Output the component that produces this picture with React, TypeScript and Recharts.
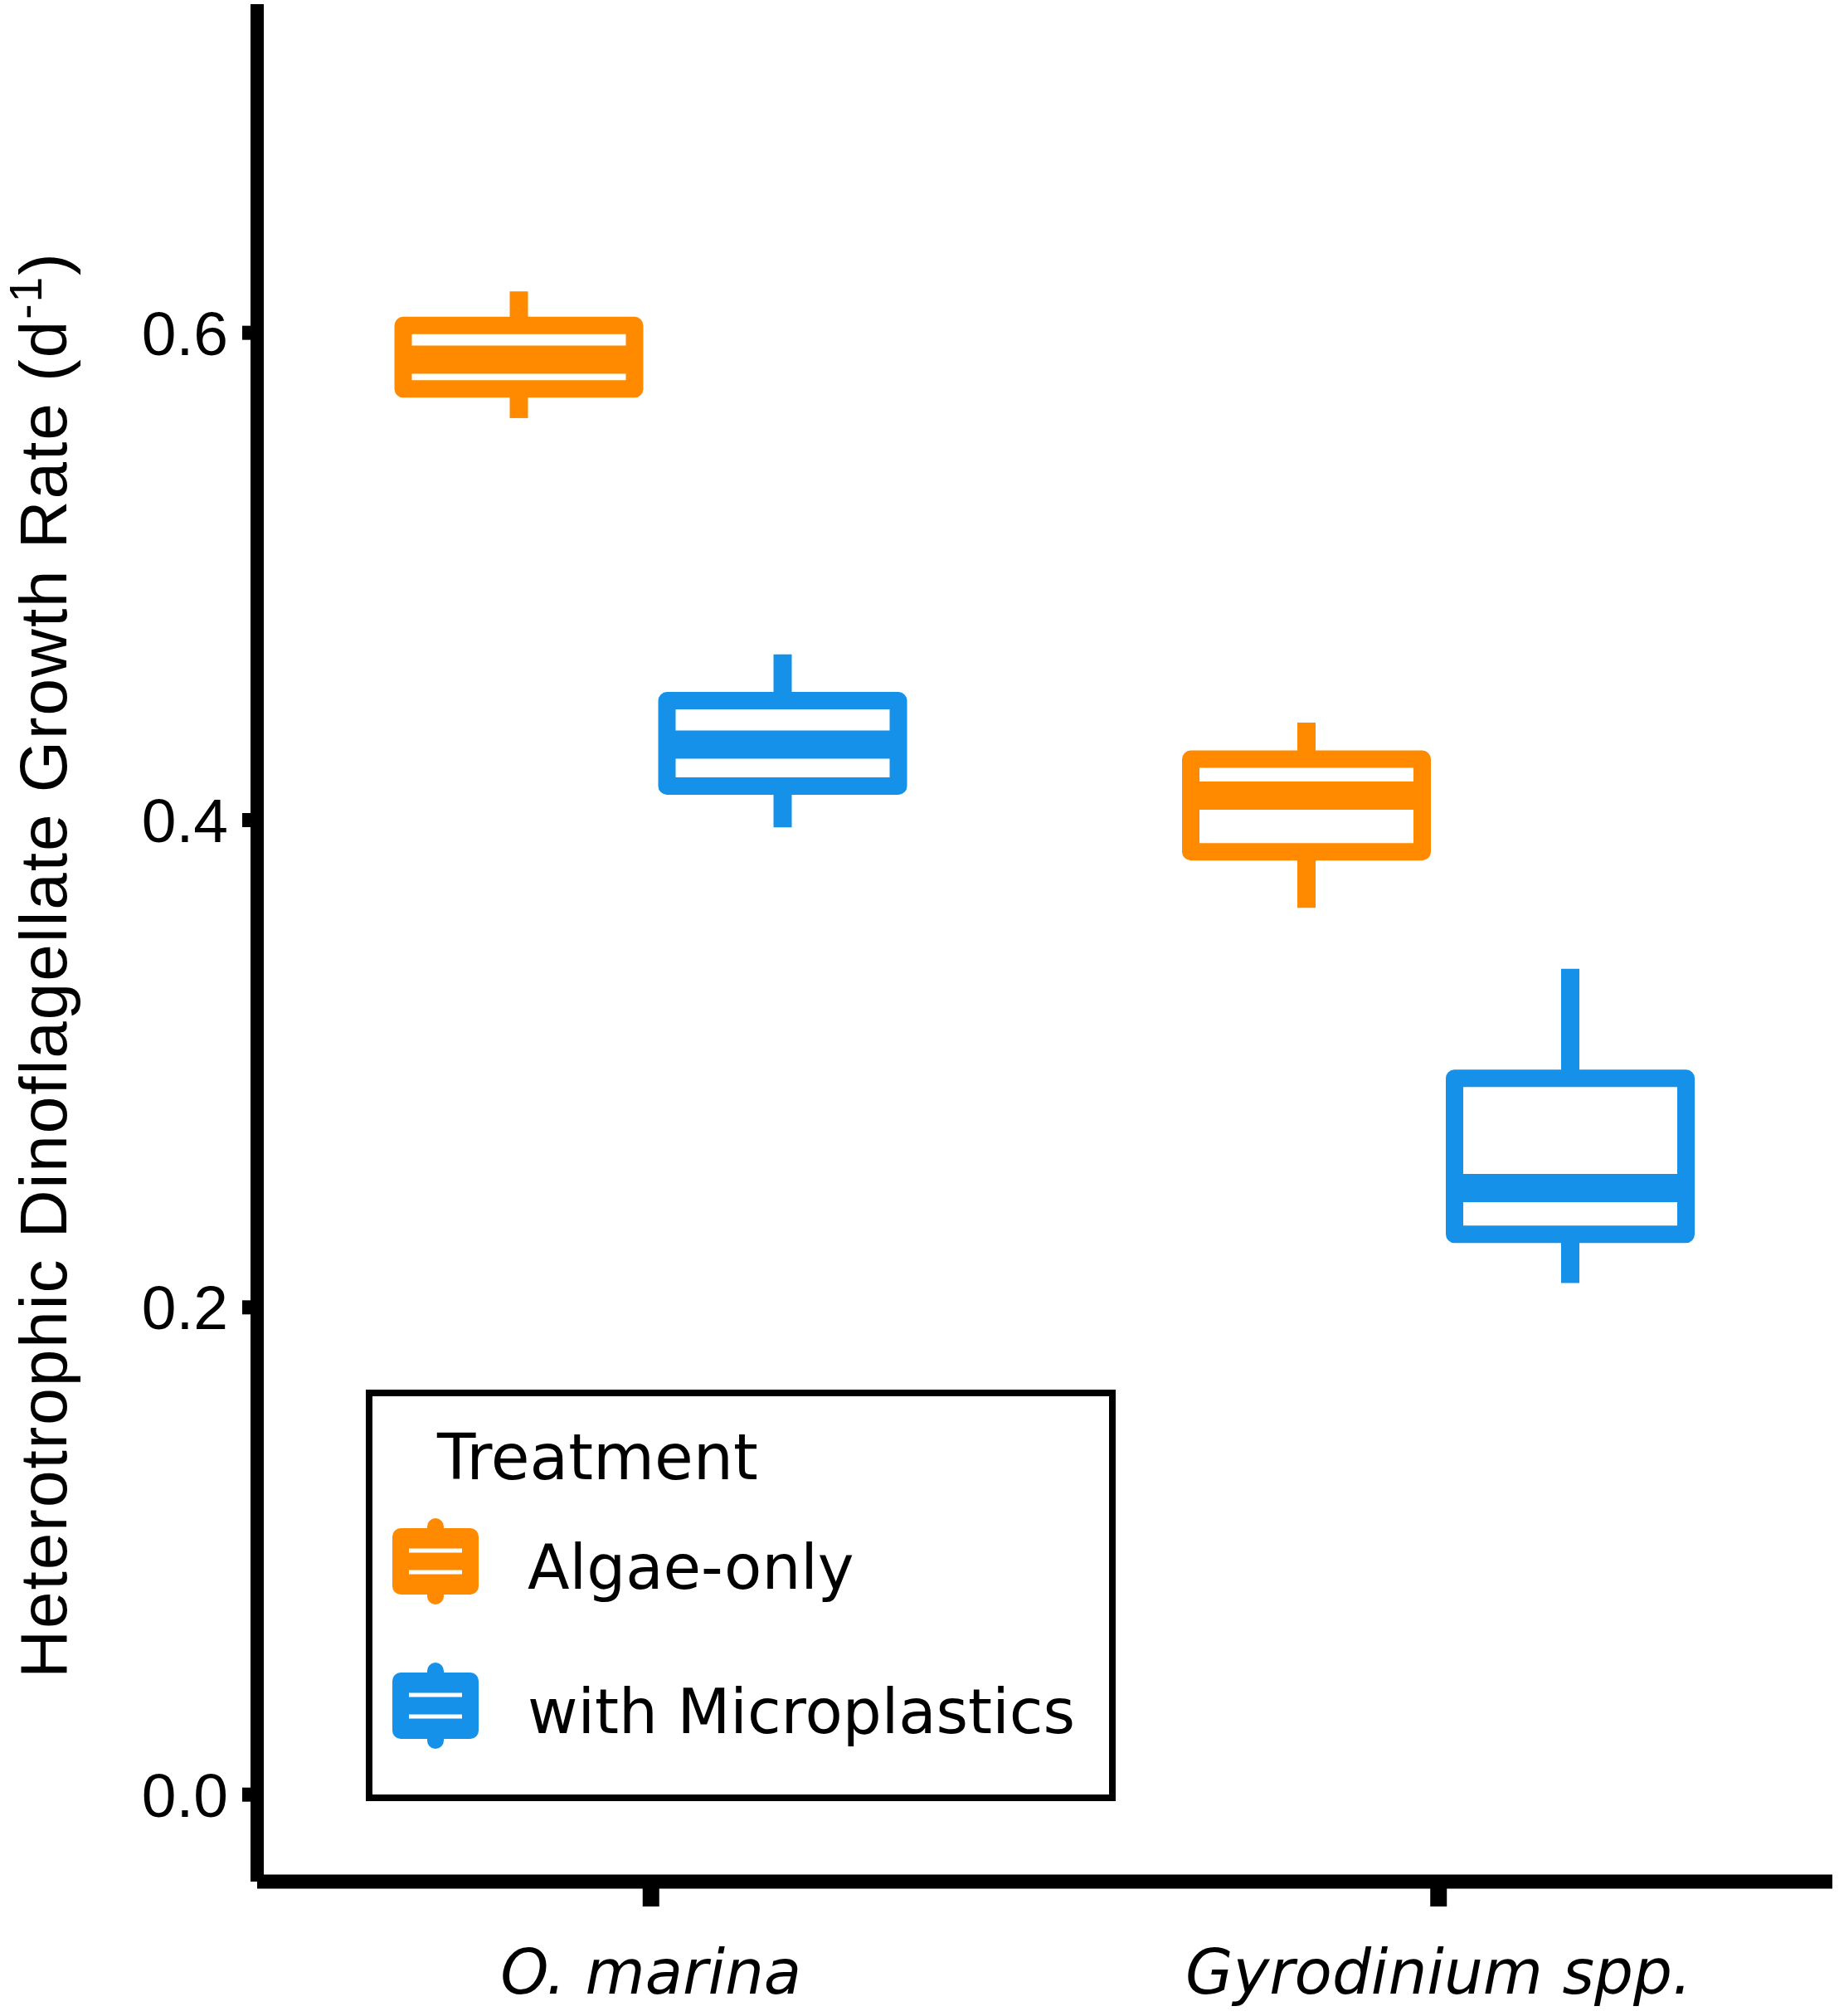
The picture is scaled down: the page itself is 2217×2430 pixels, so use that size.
import React from "react";
import { ComposedChart, Bar, XAxis, YAxis, Legend } from "recharts";

// categories and groups
const species = ["O. marina", "Gyrodinium spp."];
const treatments = ["Algae-only", "with Microplastics"];
const treatmentColors = ["#FF8A00", "#1591EA"];

// box stats per species: [lower whisker, Q1, median, Q3, upper whisker]
const algaeOnly = [
  [0.565, 0.577, 0.589, 0.603, 0.617],
  [0.364, 0.387, 0.41, 0.425, 0.44],
];
const withMicroplastics = [
  [0.397, 0.414, 0.431, 0.449, 0.468],
  [0.21, 0.23, 0.249, 0.294, 0.339],
];

const yTicks = [0, 0.2, 0.4, 0.6];
const yDomain = [-0.0357, 0.7349];

const data = species.map((s, i) => ({
  species: s,
  algaeRange: [algaeOnly[i][0], algaeOnly[i][4]],
  algaeStats: algaeOnly[i],
  microRange: [withMicroplastics[i][0], withMicroplastics[i][4]],
  microStats: withMicroplastics[i],
}));

const SANS = "'Liberation Sans', Arial, sans-serif";
const VERDANA = "'DejaVu Sans', Verdana, sans-serif";

// box + whiskers drawn inside the ranged bar (range = whisker ends)
function boxShape(statsKey: string, color: string) {
  return (props: any) => {
    const { x, y, width, height, payload } = props;
    const [lo, q1, med, q3, hi] = payload[statsKey];
    const top = Math.min(y, y + height);
    const bottom = Math.max(y, y + height);
    const py = (v: number) => top + ((hi - v) / (hi - lo)) * (bottom - top);
    const cx = x + width / 2;
    return (
      <g>
        <line x1={cx} x2={cx} y1={py(hi)} y2={py(q3)} stroke={color} strokeWidth={22} />
        <line x1={cx} x2={cx} y1={py(q1)} y2={py(lo)} stroke={color} strokeWidth={22} />
        <rect
          x={x}
          y={py(q3)}
          width={width}
          height={py(q1) - py(q3)}
          fill="#fff"
          stroke={color}
          strokeWidth={21}
          strokeLinejoin="round"
        />
        <line x1={x} x2={x + width} y1={py(med)} y2={py(med)} stroke={color} strokeWidth={34} />
      </g>
    );
  };
}

function XTick(props: any) {
  const { x, y, payload } = props;
  return (
    <text
      x={x}
      y={y}
      dy={103}
      textAnchor="middle"
      fontSize={74}
      fontStyle="italic"
      fontFamily={VERDANA}
      fill="#000"
    >
      {payload.value}
    </text>
  );
}

function YTitle() {
  return (
    <text
      x={80}
      y={1163}
      transform="rotate(-90, 80, 1163)"
      textAnchor="middle"
      fontSize={80}
      letterSpacing={2}
      fontFamily={SANS}
      fill="#000"
    >
      Heterotrophic Dinoflagellate Growth Rate (d
      <tspan fontSize={55} dy={-30}>-1</tspan>
      <tspan dy={30}>)</tspan>
    </text>
  );
}

function KeyGlyph({ cx, cy, color }: { cx: number; cy: number; color: string }) {
  return (
    <g>
      <line x1={cx} x2={cx} y1={cy - 42} y2={cy + 42} stroke={color} strokeWidth={20} strokeLinecap="round" />
      <rect x={cx - 52} y={cy - 40} width={104} height={80} rx={10} fill={color} />
      <line x1={cx - 32} x2={cx + 32} y1={cy - 13} y2={cy - 13} stroke="#fff" strokeWidth={5} />
      <line x1={cx - 32} x2={cx + 32} y1={cy + 13} y2={cy + 13} stroke="#fff" strokeWidth={5} />
    </g>
  );
}

function TreatmentLegend(props: any) {
  const items = props.payload ?? [];
  return (
    <svg width={904} height={496} style={{ display: "block" }}>
      <rect x={4} y={4} width={896} height={488} fill="#fff" stroke="#000" strokeWidth={8} />
      <text x={86} y={108} fontSize={76} fontFamily={VERDANA} fill="#000">
        Treatment
      </text>
      {items.map((it: any, i: number) => {
        const cy = 207 + i * 174;
        return (
          <g key={it.value}>
            <KeyGlyph cx={84} cy={cy} color={it.color} />
            <text x={195} y={cy + 33} fontSize={74} fontFamily={VERDANA} fill="#000">
              {it.value}
            </text>
          </g>
        );
      })}
    </svg>
  );
}

export default function App() {
  return (
    <div
      style={{
        position: "absolute",
        left: 0,
        top: 0,
        width: 2217,
        height: 2430,
        background: "#fff",
        fontFamily: SANS,
      }}
    >
      <ComposedChart
        width={2217}
        height={2430}
        data={data}
        margin={{ top: 5, right: 8, bottom: 0, left: 0 }}
        barSize={279}
        barGap={39}
      >
        <XAxis
          dataKey="species"
          height={162}
          interval={0}
          axisLine={{ stroke: "#000", strokeWidth: 17 }}
          tickLine={{ stroke: "#000", strokeWidth: 20 }}
          tickSize={30}
          tick={<XTick />}
        />
        <YAxis
          type="number"
          domain={yDomain}
          ticks={yTicks}
          allowDataOverflow
          width={310}
          axisLine={{ stroke: "#000", strokeWidth: 16 }}
          tickLine={{ stroke: "#000", strokeWidth: 17 }}
          tickSize={18}
          tickMargin={17}
          tickFormatter={(v: number) => v.toFixed(1)}
          tick={{ fontSize: 75, fill: "#000", fontFamily: SANS }}
          label={{ content: () => <YTitle /> }}
        />
        <Bar
          dataKey="algaeRange"
          name={treatments[0]}
          fill={treatmentColors[0]}
          shape={boxShape("algaeStats", treatmentColors[0])}
          isAnimationActive={false}
        />
        <Bar
          dataKey="microRange"
          name={treatments[1]}
          fill={treatmentColors[1]}
          shape={boxShape("microStats", treatmentColors[1])}
          isAnimationActive={false}
        />
        <Legend
          layout="vertical"
          align="center"
          verticalAlign="middle"
          wrapperStyle={{ left: 441, top: 1675, width: 904, height: 496 }}
          content={(p: any) => <TreatmentLegend {...p} />}
        />
      </ComposedChart>
    </div>
  );
}
